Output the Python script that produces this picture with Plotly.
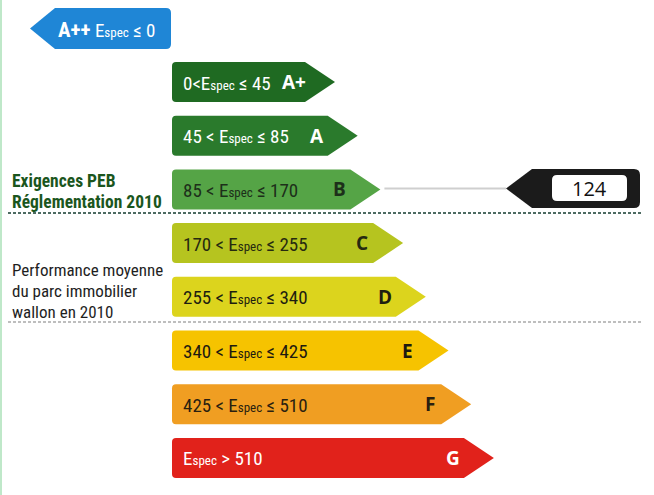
import plotly.graph_objects as go

# ---------------- data ----------------
classes = ["A++", "A+", "A", "B", "C", "D", "E", "F", "G"]
lower_bounds = [None, 0, 45, 85, 170, 255, 340, 425, 510]
upper_bounds = [0, 45, 85, 170, 255, 340, 425, 510, None]
ESPEC = "E<span style='font-size:13px'>spec</span>"
range_labels = [
    f"{ESPEC} ≤ 0",
    f"0<{ESPEC} ≤ 45",
    f"45 < {ESPEC} ≤ 85",
    f"85 < {ESPEC} ≤ 170",
    f"170 < {ESPEC} ≤ 255",
    f"255 < {ESPEC} ≤ 340",
    f"340 < {ESPEC} ≤ 425",
    f"425 < {ESPEC} ≤ 510",
    f"{ESPEC} > 510",
]
class_colors = ["#1f86d6", "#1f6a22", "#2a7a2c", "#55a446", "#b6c41f",
                "#dcd41d", "#f6c300", "#f09e22", "#e1221b"]
text_colors = ["#ffffff", "#ffffff", "#ffffff", "#1d2f1a", "#262a10",
               "#1e1e10", "#1e1a10", "#2a1f10", "#ffffff"]
value = 124
requirement_lines = ["Exigences PEB", "Réglementation 2010"]
average_lines = ["Performance moyenne", "du parc immobilier", "wallon en 2010"]

# ---------------- layout constants ----------------
W, H = 654, 495
FONT = "Liberation Sans Narrow, Arial Narrow, Roboto Condensed, Roboto, sans-serif"
bar_left = 172
first_center = 82
step = 53.7
first_tip = 335
tip_step = 22.7
bar_h = 40
head = 30


def rounded_arrow_right(left, tip, yc, h, r=4):
    t, b = yc - h / 2, yc + h / 2
    rr = tip - head
    return (f"M {left + r},{t} L {rr},{t} L {tip},{yc} L {rr},{b} L {left + r},{b} "
            f"Q {left},{b} {left},{b - r} L {left},{t + r} Q {left},{t} {left + r},{t} Z")


def rounded_arrow_left(tip, body_left, right, yc, h, r=5):
    t, b = yc - h / 2, yc + h / 2
    return (f"M {body_left},{t} L {right - r},{t} Q {right},{t} {right},{t + r} "
            f"L {right},{b - r} Q {right},{b} {right - r},{b} L {body_left},{b} L {tip},{yc} Z")


def rounded_rect(x0, y0, x1, y1, r=5):
    return (f"M {x0 + r},{y0} L {x1 - r},{y0} Q {x1},{y0} {x1},{y0 + r} L {x1},{y1 - r} "
            f"Q {x1},{y1} {x1 - r},{y1} L {x0 + r},{y1} Q {x0},{y1} {x0},{y1 - r} "
            f"L {x0},{y0 + r} Q {x0},{y0} {x0 + r},{y0} Z")


fig = go.Figure()
# invisible trace to establish axes
fig.add_trace(go.Scatter(x=[0, W], y=[0, H], mode="markers",
                         marker=dict(opacity=0), hoverinfo="skip", showlegend=False))

shapes = []
annotations = []

# left thin border
shapes.append(dict(type="line", xref="x", yref="y", x0=1, x1=1, y0=0, y1=H,
                   line=dict(color="#bfe8c9", width=2)))

# A++ arrow (points left)
yc0 = 28.5
shapes.append(dict(type="path", xref="x", yref="y",
                   path=rounded_arrow_left(30, 55, 171, yc0, 41),
                   fillcolor=class_colors[0], line=dict(width=0)))
annotations.append(dict(x=56, y=yc0 + 1, xref="x", yref="y", xanchor="left", yanchor="middle",
                        showarrow=False,
                        text=f"<b><span style='font-size:21px'>{classes[0]}</span></b> {range_labels[0]}",
                        font=dict(family=FONT, size=19, color=text_colors[0])))

centers = {}
for i in range(1, len(classes)):
    k = i - 1
    yc = first_center + k * step
    tip = first_tip + k * tip_step
    centers[i] = (yc, tip)
    shapes.append(dict(type="path", xref="x", yref="y",
                       path=rounded_arrow_right(bar_left, tip, yc, bar_h),
                       fillcolor=class_colors[i], line=dict(width=0)))
    annotations.append(dict(x=bar_left + 9, y=yc + 1, xref="x", yref="y",
                            xanchor="left", yanchor="middle", showarrow=False,
                            text=range_labels[i],
                            font=dict(family=FONT, size=19, color=text_colors[i])))
    annotations.append(dict(x=tip - 41, y=yc, xref="x", yref="y",
                            xanchor="center", yanchor="middle", showarrow=False,
                            text=f"<b>{classes[i]}</b>",
                            font=dict(family="Open Sans, DejaVu Sans, sans-serif",
                                      size=19, color=text_colors[i])))

# find class of value
vi = None
for i in range(len(classes)):
    lo, hi = lower_bounds[i], upper_bounds[i]
    if (lo is None or value > lo) and (hi is None or value <= hi):
        vi = i
        break
vyc, vtip = centers[vi]
vyc = vyc - 1

# connector line
shapes.append(dict(type="line", xref="x", yref="y", x0=vtip + 4, x1=506, y0=vyc, y1=vyc,
                   line=dict(color="#cfcfcf", width=2)))
# black pointer
shapes.append(dict(type="path", xref="x", yref="y",
                   path=rounded_arrow_left(506, 532, 640, vyc, 39, r=6),
                   fillcolor="#1b1b1b", line=dict(width=0)))
shapes.append(dict(type="path", xref="x", yref="y",
                   path=rounded_rect(552, vyc - 13.5, 627, vyc + 12.5, r=5),
                   fillcolor="#ffffff", line=dict(width=0)))
annotations.append(dict(x=589.5, y=vyc, xref="x", yref="y", xanchor="center", yanchor="middle",
                        showarrow=False, text=str(value),
                        font=dict(family="Open Sans, DejaVu Sans, sans-serif", size=20,
                                  color="#111111")))

# separators
shapes.append(dict(type="line", xref="x", yref="y", x0=8, x1=642, y0=213, y1=213,
                   line=dict(color="#4d6b62", width=2, dash="3px,2px")))
shapes.append(dict(type="line", xref="x", yref="y", x0=8, x1=642, y0=322, y1=322,
                   line=dict(color="#a9a9a9", width=1.5, dash="3px,2px")))

# left texts
for j, t in enumerate(requirement_lines):
    annotations.append(dict(x=10, y=181 + j * 21, xref="x", yref="y", xanchor="left",
                            yanchor="middle", showarrow=False, text=f"<b>{t}</b>",
                            font=dict(family=FONT, size=17.5, color="#1b561d")))
for j, t in enumerate(average_lines):
    annotations.append(dict(x=10, y=270 + j * 21, xref="x", yref="y", xanchor="left",
                            yanchor="middle", showarrow=False, text=t,
                            font=dict(family=FONT, size=17, color="#1e1e1e")))

fig.update_layout(
    width=W, height=H,
    margin=dict(l=0, r=0, t=0, b=0),
    paper_bgcolor="white", plot_bgcolor="white",
    xaxis=dict(range=[0, W], visible=False, fixedrange=True),
    yaxis=dict(range=[H, 0], visible=False, fixedrange=True),
    shapes=shapes, annotations=annotations,
    showlegend=False,
)

fig.write_html("out.html", config={"displayModeBar": False},
               post_script="document.body.style.margin='0px';document.body.style.overflow='hidden';")
